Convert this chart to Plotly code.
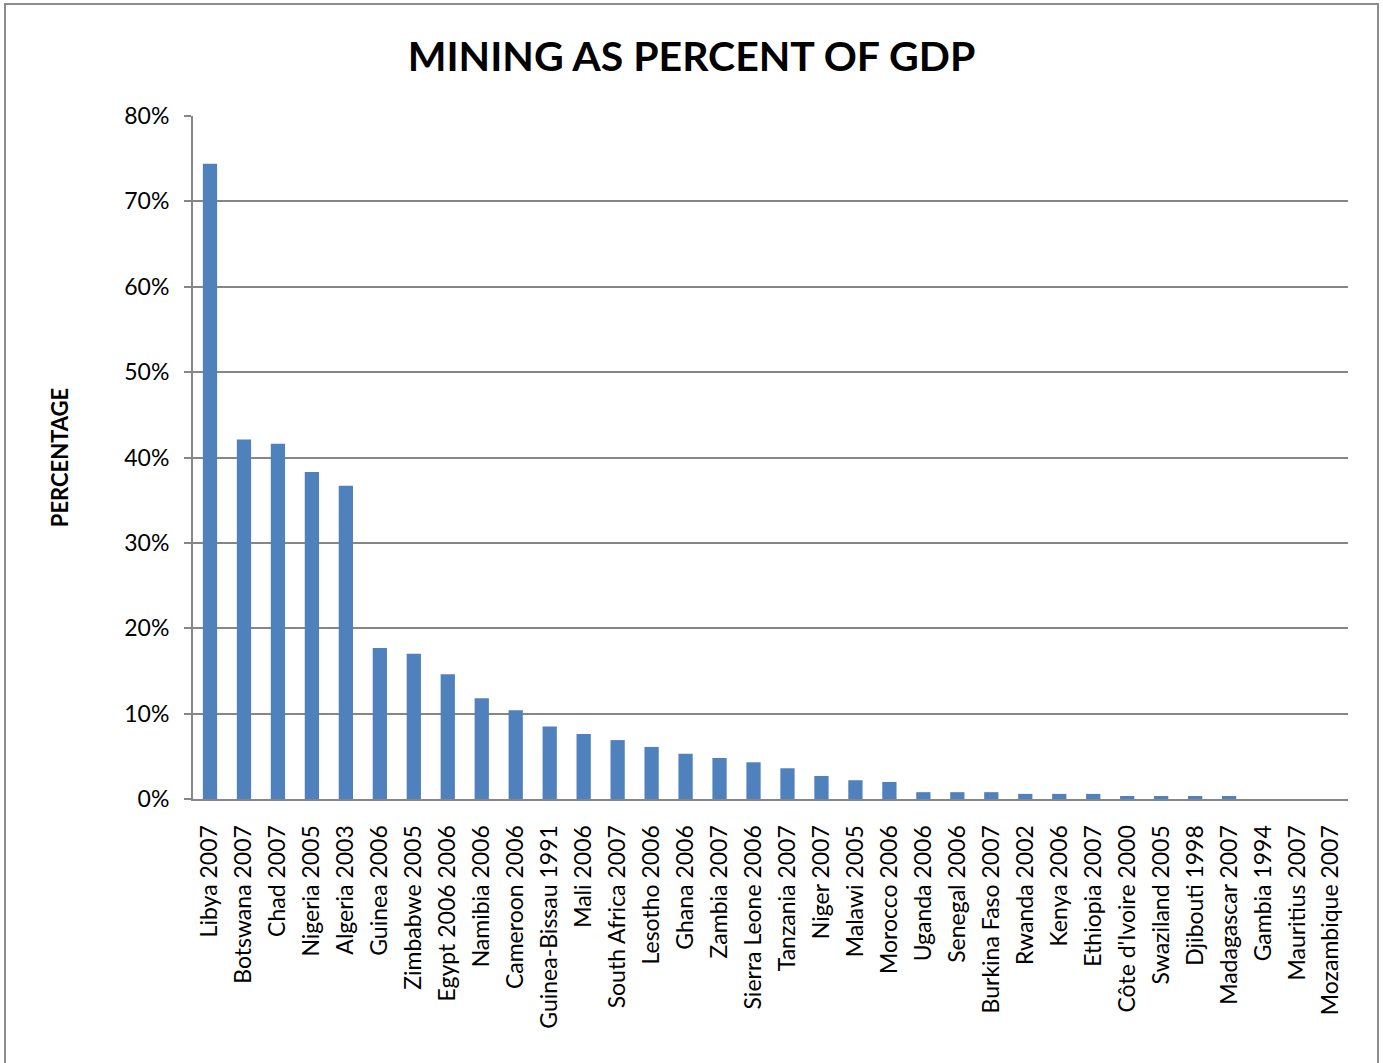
import plotly.graph_objects as go

categories = ["Libya 2007", "Botswana 2007", "Chad 2007", "Nigeria 2005", "Algeria 2003",
              "Guinea 2006", "Zimbabwe 2005", "Egypt 2006 2006", "Namibia 2006", "Cameroon 2006",
              "Guinea-Bissau 1991", "Mali 2006", "South Africa 2007", "Lesotho 2006", "Ghana 2006",
              "Zambia 2007", "Sierra Leone 2006", "Tanzania 2007", "Niger 2007", "Malawi 2005",
              "Morocco 2006", "Uganda 2006", "Senegal 2006", "Burkina Faso 2007", "Rwanda 2002",
              "Kenya 2006", "Ethiopia 2007", "Côte d'Ivoire 2000", "Swaziland 2005", "Djibouti 1998",
              "Madagascar 2007", "Gambia 1994", "Mauritius 2007", "Mozambique 2007"]
values = [0.744, 0.421, 0.416, 0.383, 0.367,
          0.177, 0.170, 0.146, 0.118, 0.104,
          0.085, 0.076, 0.069, 0.061, 0.053,
          0.048, 0.043, 0.036, 0.027, 0.022,
          0.020, 0.008, 0.008, 0.008, 0.006,
          0.006, 0.006, 0.0035, 0.0035, 0.0035,
          0.0035, 0.0, 0.0, 0.0]
y_ticks = [0, 0.1, 0.2, 0.3, 0.4, 0.5, 0.6, 0.7, 0.8]
y_tick_labels = ["0%", "10%", "20%", "30%", "40%", "50%", "60%", "70%", "80%"]

FONT = "Lato"
W, H = 1383, 1063
L, R, T, B = 193, 35, 116, 264

fig = go.Figure()
fig.add_trace(go.Bar(
    x=categories, y=values,
    marker=dict(color="#4F81BD", line=dict(width=0)),
    width=0.42,
))

def px_x(p):
    return (p - L) / (W - L - R)

def px_y(p):
    return (H - B - p) / (H - T - B)

fig.update_layout(
    width=W, height=H,
    margin=dict(l=L, r=R, t=T, b=B, autoexpand=False),
    paper_bgcolor="white", plot_bgcolor="white",
    showlegend=False,
    font=dict(family=FONT, color="black", size=23),
    title=dict(text="<b>MINING AS PERCENT OF GDP</b>", x=0.5, xanchor="center",
               y=1 - 57 / H, yanchor="middle", font=dict(family=FONT, size=41, color="black")),
    xaxis=dict(
        type="category", tickangle=-90, showgrid=False,
        showline=True, linecolor="#868686", linewidth=2,
        ticks="", tickfont=dict(size=23, family=FONT), range=[-0.5, len(categories) - 0.5],
        ticklabelstandoff=15,
    ),
    yaxis=dict(
        range=[0, 0.8], tickvals=y_ticks, ticktext=y_tick_labels,
        showgrid=True, gridcolor="#868686", gridwidth=1.5,
        showline=True, linecolor="#868686", linewidth=2,
        ticks="outside", ticklen=7, tickcolor="#868686", tickwidth=1.5,
        tickfont=dict(size=23, family=FONT), zeroline=False, ticklabelstandoff=10,
        title=dict(text="<b>PERCENTAGE</b>", font=dict(size=22, family=FONT), standoff=50),
    ),
    shapes=[dict(type="rect", xref="paper", yref="paper",
                 x0=px_x(5), x1=px_x(1378), y0=px_y(1070), y1=px_y(4),
                 line=dict(color="#8C8C8C", width=2), fillcolor="rgba(0,0,0,0)", layer="below")],
)

fig.write_html("out.html")
